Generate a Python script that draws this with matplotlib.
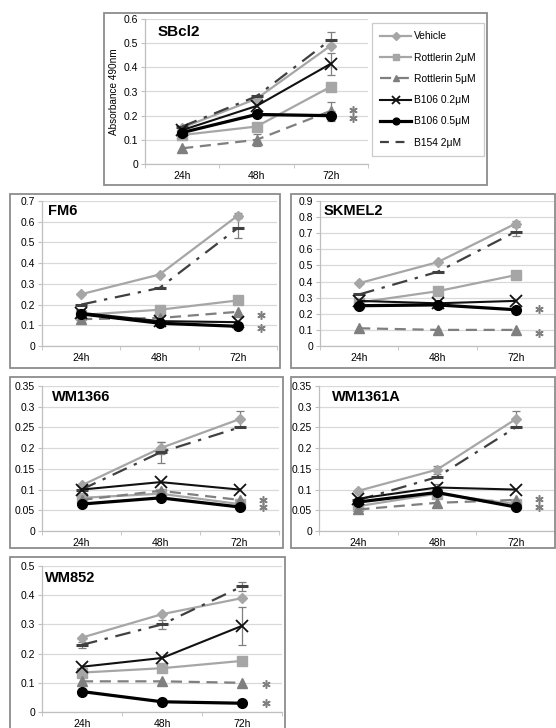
import matplotlib
matplotlib.use("Agg")
import matplotlib.pyplot as plt
from matplotlib.patches import Rectangle
from matplotlib.lines import Line2D
from matplotlib.ticker import FuncFormatter, FixedLocator

plt.rcParams['font.family'] = ['Liberation Sans', 'DejaVu Sans']

W, H = 556, 728
times = ["24h", "48h", "72h"]
series_names = ["Vehicle", "Rottlerin 2\u03bcM", "Rottlerin 5\u03bcM",
                "B106 0.2\u03bcM", "B106 0.5\u03bcM", "B154 2\u03bcM"]

# values per cell line, same order as series_names
sbcl2 = [[0.15, 0.27, 0.49], [0.12, 0.155, 0.32], [0.065, 0.10, 0.22],
         [0.14, 0.24, 0.415], [0.13, 0.205, 0.20], [0.155, 0.28, 0.515]]
fm6 = [[0.25, 0.345, 0.63], [0.15, 0.175, 0.22], [0.13, 0.135, 0.165],
       [0.16, 0.12, 0.115], [0.155, 0.11, 0.095], [0.20, 0.28, 0.57]]
skmel2 = [[0.39, 0.52, 0.76], [0.27, 0.34, 0.44], [0.11, 0.10, 0.10],
          [0.28, 0.265, 0.28], [0.25, 0.255, 0.225], [0.32, 0.46, 0.71]]
wm1366 = [[0.11, 0.20, 0.27], [0.08, 0.09, 0.065], [0.075, 0.097, 0.075],
          [0.10, 0.118, 0.10], [0.065, 0.08, 0.058], [0.10, 0.19, 0.25]]
wm1361a = [[0.097, 0.148, 0.27], [0.06, 0.09, 0.065], [0.052, 0.068, 0.075],
           [0.078, 0.105, 0.10], [0.07, 0.093, 0.058], [0.075, 0.13, 0.25]]
wm852 = [[0.255, 0.335, 0.39], [0.135, 0.15, 0.175], [0.105, 0.105, 0.10],
         [0.155, 0.185, 0.295], [0.07, 0.035, 0.03], [0.23, 0.30, 0.43]]

# error bars: (series index, time index, error)
sbcl2_err = [(5, 2, 0.03), (3, 2, 0.045), (2, 2, 0.035), (4, 2, 0.02), (2, 1, 0.025), (0, 1, 0.01)]
fm6_err = [(5, 2, 0.05), (0, 2, 0.01), (3, 0, 0.02)]
skmel2_err = [(5, 2, 0.03), (0, 2, 0.015)]
wm1366_err = [(0, 2, 0.02), (5, 1, 0.025), (0, 1, 0.015)]
wm1361a_err = [(0, 2, 0.02), (0, 1, 0.01), (3, 1, 0.008)]
wm852_err = [(3, 2, 0.065), (5, 2, 0.015), (5, 1, 0.015), (5, 0, 0.01)]

# significance asterisks (y positions at 72h)
sbcl2_star = [0.225, 0.19]
fm6_star = [0.15, 0.085]
skmel2_star = [0.23, 0.08]
wm1366_star = [0.075, 0.058]
wm1361a_star = [0.077, 0.058]
wm852_star = [0.095, 0.03]

styles = [
    dict(color="#a6a6a6", lw=1.6, marker="D", ms=5.5, ls="-"),
    dict(color="#a6a6a6", lw=1.6, marker="s", ms=6.5, ls="-"),
    dict(color="#7f7f7f", lw=1.6, marker="^", ms=7, ls=(0, (5, 3))),
    dict(color="#111111", lw=1.5, marker="x", ms=8, mew=1.3, ls="-"),
    dict(color="#000000", lw=2.3, marker="o", ms=7, ls="-"),
    dict(color="#404040", lw=1.6, marker="_", ms=9, mew=2.2, ls=(0, (7, 3.5, 1.5, 3.5))),
]
draw_order = [0, 1, 2, 5, 3, 4]

# name, data, errors, stars, ymax, step, axes px, box px, title offset px (x, y)
panels = [
    ("SBcl2", sbcl2, sbcl2_err, sbcl2_star, 0.6, 0.1, (145, 19, 368, 164), (104, 13, 487, 185), (13, 13)),
    ("FM6", fm6, fm6_err, fm6_star, 0.7, 0.1, (42, 201, 277, 346), (10, 194, 280, 368), (6, 10)),
    ("SKMEL2", skmel2, skmel2_err, skmel2_star, 0.9, 0.1, (320, 201, 555, 346), (291, 194, 555, 368), (4, 10)),
    ("WM1366", wm1366, wm1366_err, wm1366_star, 0.35, 0.05, (42, 386, 279, 531), (10, 377, 283, 548), (10, 11)),
    ("WM1361A", wm1361a, wm1361a_err, wm1361a_star, 0.35, 0.05, (319, 386, 555, 531), (291, 377, 555, 548), (13, 11)),
    ("WM852", wm852, wm852_err, wm852_star, 0.5, 0.1, (42, 566, 282, 712), (10, 557, 285, 730), (3, 12)),
]

fig = plt.figure(figsize=(W / 100, H / 100), dpi=100)

for name, data, errs, stars, ymax, step, ax_px, box_px, toff in panels:
    bl, bt, br, bb = box_px
    fig.add_artist(Rectangle((bl / W, 1 - bb / H), (br - bl) / W, (bb - bt) / H,
                             transform=fig.transFigure, fill=False,
                             edgecolor="#8c8c8c", lw=1.3))
    l, t, r, b = ax_px
    ax = fig.add_axes([l / W, 1 - b / H, (r - l) / W, (b - t) / H])
    x = list(range(len(times)))
    for i in draw_order:
        ax.plot(x, data[i], label=series_names[i], zorder=3 + draw_order.index(i), **styles[i])
    for si, ti, e in errs:
        ax.errorbar(x[ti], data[si][ti], yerr=e, fmt="none", ecolor="#7f7f7f",
                    elinewidth=0.9, capsize=3, capthick=0.9, zorder=2)
    # asterisks drawn as markers
    ax.plot([2.3] * len(stars), stars, ls="none", marker=(6, 2, 0), ms=6,
            mew=1.1, color="#808080", clip_on=False)
    ax.set_xlim(-0.5, 2.5)
    ax.set_ylim(0, ymax)
    nt = int(round(ymax / step))
    ax.set_yticks([k * step for k in range(nt + 1)])
    ax.yaxis.set_major_formatter(FuncFormatter(lambda v, p: f"{v:g}"))
    ax.set_xticks(x)
    ax.set_xticklabels(times)
    ax.xaxis.set_minor_locator(FixedLocator([-0.5, 0.5, 1.5, 2.5]))
    ax.tick_params(axis="x", which="major", length=0, labelsize=7.5, pad=5)
    ax.tick_params(axis="x", which="minor", length=3, color="#bfbfbf", direction="out")
    ax.tick_params(axis="y", length=3, color="#bfbfbf", labelsize=7.5, pad=2)
    ax.grid(axis="y", color="#d9d9d9", lw=0.9)
    ax.set_axisbelow(True)
    for s in ["top", "right"]:
        ax.spines[s].set_visible(False)
    for s in ["left", "bottom"]:
        ax.spines[s].set_color("#bfbfbf")
        ax.spines[s].set_linewidth(0.9)
    ax.text(toff[0] / (r - l), 1 - toff[1] / (b - t), name, transform=ax.transAxes,
            fontsize=11 if name == "SBcl2" else 10.5, fontweight="bold",
            ha="left", va="center")
    if name == "SBcl2":
        ax.set_ylabel("Absorbance 490nm", fontsize=7.2, labelpad=3)
        handles = []
        for i in range(6):
            st = dict(styles[i])
            if i == 5:
                st["ls"] = (0, (4, 3))
                st["marker"] = None
            st["ms"] = st["ms"] * 0.7
            handles.append(Line2D([], [], **st))
        leg = ax.legend(handles, series_names, loc="upper left",
                        bbox_to_anchor=(372 / W, 1 - 23 / H), bbox_transform=fig.transFigure,
                        fontsize=7.4, frameon=True, fancybox=False, edgecolor="#bfbfbf",
                        handlelength=3.0, handletextpad=0.3, labelspacing=1.1,
                        borderpad=0.8, borderaxespad=0)
        leg.get_frame().set_linewidth(0.9)

fig.savefig("out.png", dpi=100)
